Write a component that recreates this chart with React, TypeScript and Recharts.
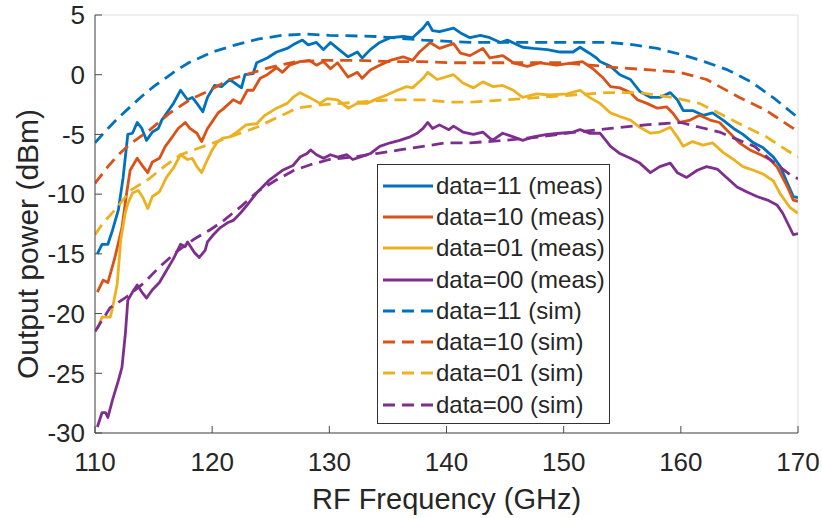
import { CartesianGrid, Legend, Line, LineChart, XAxis, YAxis } from "recharts";

// measured output power vs RF frequency, [GHz, dBm]
const meas11: [number, number][] = [
  [110.2, -15], [110.6, -14.2], [111.1, -14.2], [111.5, -13], [112.0, -11.3], [112.4, -8.6],
  [112.8, -5], [113.2, -4.9], [113.6, -4], [114.0, -4.5], [114.4, -5.5], [114.9, -4.8],
  [115.4, -4.5], [115.7, -3.8], [116.2, -3.1], [116.7, -2.4], [117.3, -1.3], [117.9, -2.1],
  [118.3, -1.9], [118.7, -2.4], [119.2, -3.1], [119.6, -1.9], [120.2, -0.9], [120.8, -1.0],
  [121.5, -0.4], [122.5, -1.1], [122.8, 0], [123.5, 0.1], [123.8, 1.0], [124.7, 1.4],
  [125.5, 1.9], [126.4, 2.2], [126.9, 2.5], [127.7, 2.9], [128.2, 2.5], [128.9, 2.7],
  [129.5, 2.1], [130.1, 2.7], [130.7, 2.2], [131.6, 1.5], [132.4, 1.9], [132.8, 1.4],
  [133.5, 2.1], [134.3, 2.7], [135.2, 3.1], [136.3, 3.2], [137.1, 3.1], [138.0, 3.9],
  [138.4, 4.4], [138.8, 3.7], [139.4, 3.6], [140.6, 3.9], [141.2, 3.5], [142.0, 3.1],
  [142.9, 3.3], [143.7, 3.1], [144.6, 2.7], [145.2, 2.9], [146.5, 2.3], [147.4, 2.2],
  [148.6, 2.1], [149.7, 1.9], [150.8, 1.9], [151.4, 2.3], [152.2, 1.8], [152.8, 1.4],
  [153.1, 1.1], [154.0, 0.7], [154.8, 0], [155.7, -0.4], [156.5, -1.4], [157.4, -1.9],
  [158.2, -1.9], [159.1, -1.5], [159.7, -2.1], [160.2, -3], [161.0, -3], [161.9, -3.4],
  [162.7, -3.2], [163.6, -3.8], [164.5, -4.5], [165.3, -5], [166.2, -5.7], [167.0, -6.1],
  [167.9, -6.9], [168.5, -7.7], [169.1, -9.1], [169.6, -10.2], [170.0, -10.3],
];

const meas10: [number, number][] = [
  [110.2, -18.2], [110.7, -17.2], [111.1, -17.4], [111.7, -15.3], [112.3, -12.8], [112.7, -9.9],
  [113.0, -8], [113.6, -7], [114.1, -7.7], [114.5, -8.2], [114.9, -7.3], [115.5, -7],
  [116.0, -6], [116.6, -5.2], [117.1, -4.5], [117.7, -4], [118.1, -4.5], [118.7, -4.9],
  [119.1, -5.6], [119.6, -4.5], [120.1, -3.8], [120.5, -3.2], [120.9, -2.9], [121.8, -2.1],
  [122.4, -2.4], [123.0, -1.3], [123.5, -1.3], [124.1, -0.3], [124.7, 0], [125.5, 0.6],
  [126.0, 0.2], [126.6, 0.8], [127.5, 1.1], [128.3, 1.2], [128.9, 0.8], [129.5, 1.1],
  [130.1, 0.5], [130.7, 1.0], [131.6, -0.2], [132.4, 0.2], [132.8, -0.3], [133.5, 0.4],
  [134.3, 0.8], [135.2, 1.2], [136.3, 1.5], [137.1, 1.2], [137.7, 1.9], [138.6, 2.7],
  [139.4, 2.2], [140.6, 2.6], [141.2, 1.8], [142.0, 1.6], [143.1, 2.2], [143.7, 1.4],
  [144.8, 1.6], [145.7, 1.0], [146.9, 0.7], [148.0, 1.0], [149.4, 0.8], [150.8, 1.0],
  [151.6, 1.1], [152.5, 0.5], [153.4, -0.3], [154.0, -1.0], [154.8, -1.1], [155.7, -1.5],
  [156.3, -2.1], [157.1, -2.4], [158.0, -2.8], [158.8, -2.7], [159.3, -3.2], [159.9, -4.0],
  [160.8, -3.8], [161.6, -3.4], [162.5, -3.8], [163.3, -4.0], [164.2, -4.9], [165.0, -5.7],
  [165.9, -6.3], [166.8, -6.7], [167.6, -7.1], [168.2, -7.7], [169.1, -9.4], [169.6, -10.5],
  [170.0, -10.6],
];

const meas01: [number, number][] = [
  [110.2, -21.3], [110.6, -20.3], [111.3, -20.3], [111.5, -19.5], [111.9, -17.5], [112.2, -13.8],
  [112.6, -11.5], [112.8, -10.8], [113.2, -9.9], [113.7, -9.7], [114.1, -10.3], [114.5, -11.2],
  [114.9, -10.2], [115.5, -9.8], [116.1, -8.6], [116.7, -7.8], [117.3, -6.7], [117.9, -7.1],
  [118.3, -7.0], [118.7, -7.7], [119.1, -8.2], [119.6, -7.1], [120.0, -6.3], [120.4, -5.7],
  [120.9, -5.3], [121.5, -5.2], [122.1, -4.8], [122.9, -4.2], [123.8, -4.1], [124.5, -3.4],
  [125.5, -2.8], [126.4, -2.4], [126.9, -1.9], [127.5, -1.5], [128.3, -1.9], [129.2, -2.4],
  [129.8, -2.0], [130.7, -2.1], [131.6, -2.8], [132.4, -2.4], [133.2, -2.4], [134.1, -2.0],
  [134.9, -1.7], [135.8, -1.3], [136.6, -1.0], [137.1, -1.1], [138.0, -0.3], [138.4, 0.2],
  [139.2, -0.4], [140.6, 0], [141.4, -0.7], [142.3, -1.1], [143.1, -0.6], [144.0, -1.0],
  [144.8, -0.9], [145.7, -1.3], [146.5, -1.9], [147.7, -1.6], [148.8, -1.7], [150.3, -1.6],
  [151.4, -1.3], [152.2, -1.9], [153.1, -2.4], [154.0, -3.2], [154.8, -3.5], [155.7, -3.8],
  [156.5, -4.4], [157.4, -4.9], [158.2, -4.8], [159.1, -4.4], [159.7, -5.2], [160.2, -6.0],
  [161.0, -5.6], [161.9, -5.9], [162.7, -5.7], [163.6, -6.5], [164.5, -7.1], [165.3, -7.7],
  [166.2, -8.0], [167.0, -8.3], [167.9, -8.9], [168.5, -10.0], [169.3, -11.1], [170.0, -11.6],
];

const meas00: [number, number][] = [
  [110.2, -29.5], [110.6, -28.3], [110.9, -28.3], [111.1, -28.7], [111.5, -27.2], [112.0, -25.6],
  [112.3, -24.5], [112.6, -21.6], [112.8, -18.9], [113.2, -18.2], [113.6, -17.6], [114.0, -18.2],
  [114.4, -18.7], [114.9, -18.0], [115.5, -17.4], [116.1, -16.4], [116.7, -15.4], [117.3, -14.2],
  [117.7, -14.4], [117.9, -14.0], [118.5, -14.9], [118.9, -15.3], [119.4, -14.7], [119.6, -14.0],
  [120.1, -13.4], [120.7, -12.8], [121.3, -12.4], [121.8, -12.2], [122.4, -11.6], [123.0, -10.9],
  [123.8, -9.9], [124.9, -8.8], [126.0, -8.0], [126.9, -7.6], [127.5, -6.9], [128.1, -6.6],
  [128.4, -6.3], [128.9, -6.7], [129.5, -7.0], [130.1, -6.7], [130.7, -6.9], [131.5, -6.7],
  [132.0, -7.1], [132.6, -6.9], [133.5, -6.6], [134.3, -6.0], [135.2, -5.7], [136.0, -5.5],
  [136.9, -5.2], [137.5, -4.9], [138.0, -4.5], [138.4, -4.0], [138.8, -4.5], [139.4, -4.2],
  [140.2, -4.6], [140.6, -4.3], [141.4, -4.8], [142.3, -5.0], [143.1, -4.8], [143.9, -5.5],
  [144.8, -4.9], [145.7, -5.2], [146.5, -5.5], [147.4, -5.2], [148.6, -5.0], [149.7, -4.9],
  [150.8, -4.8], [151.4, -4.6], [152.2, -4.9], [153.1, -4.9], [154.0, -6.0], [154.8, -6.6],
  [155.7, -7.0], [156.5, -7.4], [157.4, -8.2], [158.2, -7.7], [159.1, -7.4], [159.7, -8.2],
  [160.5, -8.6], [161.4, -8.0], [162.2, -7.7], [163.1, -7.9], [163.9, -8.6], [164.8, -9.4],
  [165.6, -9.8], [166.5, -10.2], [167.4, -10.5], [168.2, -10.9], [168.7, -11.6], [169.6, -13.4],
  [170.0, -13.3],
];

// simulated curves
const sim11: [number, number][] = [
  [110, -5.7], [111, -4.6], [112, -3.6], [113, -2.7], [114, -1.8], [115, -1.0], [116, -0.3],
  [117, 0.4], [118, 1.0], [120, 1.9], [122, 2.5], [124, 3.0], [126, 3.3], [128, 3.4],
  [130, 3.3], [134, 3.2], [138, 2.9], [142, 2.7], [146, 2.7], [150, 2.7], [154, 2.7],
  [156, 2.5], [158, 2.2], [160, 1.7], [162, 1.1], [164, 0.4], [166, -0.6], [168, -2.0],
  [169, -2.8], [170, -3.6],
];

const sim10: [number, number][] = [
  [110, -9.1], [111.1, -7.7], [112, -6.7], [113, -5.8], [114.7, -4.6], [116.4, -3.2],
  [118.1, -2.1], [119.8, -1.3], [121.5, -0.4], [123.2, 0.1], [124.9, 0.6], [127.2, 1.1],
  [129.5, 1.2], [132.4, 1.2], [135.2, 1.1], [138, 1.1], [140.3, 1.0], [145, 1.0], [150, 1.0],
  [154.5, 0.6], [157.4, 0.4], [159.9, 0.2], [162.2, -0.4], [165, -1.9], [167.3, -3.0],
  [169.6, -4.5], [170, -4.8],
];

const sim01: [number, number][] = [
  [110, -13.4], [110.7, -12.4], [111.9, -11.1], [113, -9.7], [114.5, -8.8], [115.9, -7.7],
  [117.3, -6.7], [118.7, -6.2], [120.4, -5.6], [122.1, -5.0], [123.8, -4.4], [125.5, -3.6],
  [126.4, -3.2], [127.2, -2.8], [129.5, -2.5], [132.4, -2.3], [135.2, -2.1], [138, -2.1],
  [140.3, -2.3], [142, -2.3], [145.2, -2.1], [148, -1.9], [150.8, -1.7], [153.7, -1.5],
  [156.5, -1.5], [159.3, -1.9], [161.6, -2.4], [163.6, -3.4], [165.6, -4.4], [167.3, -5.2],
  [169, -6.3], [170, -6.9],
];

const sim00: [number, number][] = [
  [110, -21.5], [111.3, -19.5], [112.7, -18.6], [114.1, -17.5], [115.5, -16.1], [117, -14.8],
  [118.4, -13.8], [119.8, -13.0], [121, -12.2], [122.5, -11.0], [124, -9.7], [125.5, -8.8],
  [127, -8.0], [128.5, -7.5], [130, -7.1], [132, -6.9], [134, -6.6], [136, -6.3], [138, -6.0],
  [140, -5.7], [142, -5.7], [145, -5.5], [148, -5.2], [151, -4.8], [154, -4.5], [157, -4.2],
  [160, -4.0], [161.6, -4.4], [163.3, -4.8], [165, -5.5], [166.3, -6.0], [167.5, -7.0],
  [169.5, -8.5], [170, -8.7],
];

const xTicks = [110, 120, 130, 140, 150, 160, 170];
const yTicks = [-30, -25, -20, -15, -10, -5, 0, 5];

const BLUE = "#0072BD";
const ORANGE = "#D95319";
const YELLOW = "#EDB120";
const PURPLE = "#7E2F8E";

const series = [
  { key: "m11", name: "data=11 (meas)", color: BLUE, pts: meas11, dashed: false },
  { key: "m10", name: "data=10 (meas)", color: ORANGE, pts: meas10, dashed: false },
  { key: "m01", name: "data=01 (meas)", color: YELLOW, pts: meas01, dashed: false },
  { key: "m00", name: "data=00 (meas)", color: PURPLE, pts: meas00, dashed: false },
  { key: "s11", name: "data=11 (sim)", color: BLUE, pts: sim11, dashed: true },
  { key: "s10", name: "data=10 (sim)", color: ORANGE, pts: sim10, dashed: true },
  { key: "s01", name: "data=01 (sim)", color: YELLOW, pts: sim01, dashed: true },
  { key: "s00", name: "data=00 (sim)", color: PURPLE, pts: sim00, dashed: true },
];

const FONT = "'Liberation Sans', Arial, Helvetica, sans-serif";
const TEXT = "#262626";
const FRAME = "#4a4a4a";
const DASH = "12 7";
const LW = 2.8;

const renderLegend = () => (
  <div
    style={{
      border: "1px solid #333",
      background: "#fff",
      padding: "5px 0 0 4px",
      boxSizing: "border-box",
      width: 233,
      height: 260,
      fontFamily: FONT,
      fontSize: 24,
      color: TEXT,
    }}
  >
    {series.map((s) => (
      <div key={s.key} style={{ display: "flex", alignItems: "center", height: 31.3 }}>
        <svg width={54} height={10} style={{ flex: "none" }}>
          <line
            x1={1}
            x2={51}
            y1={5}
            y2={5}
            stroke={s.color}
            strokeWidth={LW}
            strokeDasharray={s.dashed ? DASH : undefined}
          />
        </svg>
        <span style={{ whiteSpace: "nowrap" }}>{s.name}</span>
      </div>
    ))}
  </div>
);

export default function App() {
  return (
    <div style={{ position: "absolute", left: 0, top: 0, background: "#fff" }}>
      <LineChart width={822} height={518} margin={{ top: 15, right: 24, bottom: 35, left: 25 }}>
        <CartesianGrid stroke="#dedede" strokeWidth={1} />
        <XAxis
          xAxisId="b"
          type="number"
          dataKey="f"
          domain={[110, 170]}
          ticks={xTicks}
          allowDataOverflow
          height={50}
          stroke={FRAME}
          tickSize={-7}
          tickMargin={27}
          tick={{ fill: TEXT, fontSize: 26, fontFamily: FONT }}
          label={{
            value: "RF Frequency (GHz)",
            position: "bottom",
            offset: 5,
            fill: TEXT,
            fontSize: 29,
            fontFamily: FONT,
          }}
        />
        <XAxis
          xAxisId="t"
          orientation="top"
          type="number"
          domain={[110, 170]}
          ticks={xTicks}
          height={0}
          stroke={FRAME}
          tickSize={-7}
          tick={false}
        />
        <YAxis
          yAxisId="l"
          type="number"
          domain={[-30, 5]}
          ticks={yTicks}
          allowDataOverflow
          width={70}
          stroke={FRAME}
          tickSize={-7}
          tickMargin={17}
          tick={{ fill: TEXT, fontSize: 26, fontFamily: FONT }}
          label={{
            content: () => (
              <text
                x={38}
                y={244}
                transform="rotate(-90 38 244)"
                textAnchor="middle"
                fill={TEXT}
                fontSize={30}
                fontFamily={FONT}
              >
                Output power (dBm)
              </text>
            ),
          }}
        />
        <YAxis
          yAxisId="r"
          orientation="right"
          type="number"
          domain={[-30, 5]}
          ticks={yTicks}
          width={0}
          stroke={FRAME}
          tickSize={-7}
          tick={false}
        />
        {series.map((s) => (
          <Line
            key={s.key}
            xAxisId="b"
            yAxisId="l"
            name={s.name}
            data={s.pts.map(([f, p]) => ({ f, p }))}
            dataKey="p"
            stroke={s.color}
            strokeWidth={LW}
            strokeDasharray={s.dashed ? DASH : undefined}
            dot={false}
            activeDot={false}
            isAnimationActive={false}
            strokeLinejoin="round"
          />
        ))}
        <Legend
          layout="horizontal"
          verticalAlign="middle"
          align="center"
          content={renderLegend}
          wrapperStyle={{ left: 377, top: 164, width: 233, height: 260, bottom: "auto" }}
        />
      </LineChart>
    </div>
  );
}
